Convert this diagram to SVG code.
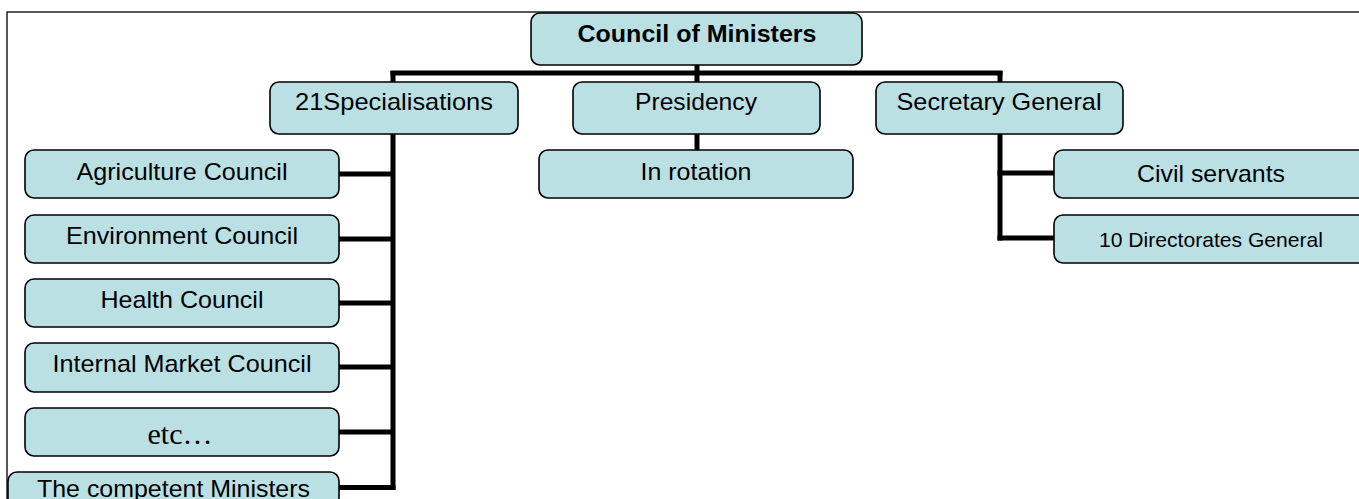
<svg xmlns="http://www.w3.org/2000/svg" width="1359" height="499" viewBox="0 0 1359 499">
<style>
.box{fill:#BBE0E3;stroke:#000;stroke-width:1.6}
.t{font-family:"Liberation Sans",Arial,sans-serif;font-size:24px;fill:#000;text-anchor:middle}
.b{font-weight:bold}
.s{font-size:21px}
.serif{font-family:"Liberation Serif","Times New Roman",serif;font-size:30px}
.conn{stroke:#000;stroke-width:5;fill:none}
.frame{stroke:#222;stroke-width:1.5;fill:none}
</style>
<rect x="0" y="0" width="1359" height="499" fill="#fff"/>
<path class="frame" d="M7,499 V12 H1359"/>
<g id="connectors">
<path class="conn" d="M393,134 V490"/>
<path class="conn" d="M390.5,73 H1002.5"/>
<path class="conn" d="M393,71 V82"/>
<path class="conn" d="M1000,71 V82"/>
<path class="conn" d="M697,65 V82"/>
<path class="conn" d="M697,134 V150"/>
<path class="conn" d="M339,174 H393 M339,239 H393 M339,303 H393 M339,367 H393 M339,432 H393 M339,487.5 H395.5"/>
<path class="conn" d="M1000,134 V240.5"/>
<path class="conn" d="M997.5,173 H1054 M997.5,238 H1054"/>
</g>
<g id="council"><rect class="box" x="531" y="13" width="331" height="52" rx="9"/><text class="t b" x="697" y="42" textLength="239" lengthAdjust="spacingAndGlyphs">Council of Ministers</text></g>
<g id="specialisations"><rect class="box" x="270" y="82" width="248" height="52" rx="9"/><text class="t" x="394" y="110" textLength="198" lengthAdjust="spacingAndGlyphs">21Specialisations</text></g>
<g id="presidency"><rect class="box" x="573" y="82" width="247" height="52" rx="9"/><text class="t" x="696" y="110" textLength="122" lengthAdjust="spacingAndGlyphs">Presidency</text></g>
<g id="secretary"><rect class="box" x="876" y="82" width="247" height="52" rx="9"/><text class="t" x="999" y="110" textLength="205" lengthAdjust="spacingAndGlyphs">Secretary General</text></g>
<g id="rotation"><rect class="box" x="539" y="150" width="314" height="48" rx="9"/><text class="t" x="696" y="180" textLength="111" lengthAdjust="spacingAndGlyphs">In rotation</text></g>
<g id="agriculture"><rect class="box" x="25" y="150" width="314" height="48" rx="9"/><text class="t" x="182" y="180" textLength="211" lengthAdjust="spacingAndGlyphs">Agriculture Council</text></g>
<g id="environment"><rect class="box" x="25" y="215" width="314" height="48" rx="9"/><text class="t" x="182" y="244" textLength="232" lengthAdjust="spacingAndGlyphs">Environment Council</text></g>
<g id="health"><rect class="box" x="25" y="279" width="314" height="48" rx="9"/><text class="t" x="182" y="308" textLength="163" lengthAdjust="spacingAndGlyphs">Health Council</text></g>
<g id="internal"><rect class="box" x="25" y="343" width="314" height="49" rx="9"/><text class="t" x="182" y="372" textLength="259" lengthAdjust="spacingAndGlyphs">Internal Market Council</text></g>
<g id="etc"><rect class="box" x="25" y="408" width="314" height="48" rx="9"/><text class="t serif" x="180" y="444">etc…</text></g>
<g id="ministers"><rect class="box" x="8" y="472" width="331" height="48" rx="9"/><text class="t" x="173.5" y="497" textLength="273" lengthAdjust="spacingAndGlyphs">The competent Ministers</text></g>
<g id="civil"><rect class="box" x="1054" y="150" width="316" height="48" rx="9"/><text class="t" x="1211" y="182" textLength="148" lengthAdjust="spacingAndGlyphs">Civil servants</text></g>
<g id="directorates"><rect class="box" x="1054" y="215" width="316" height="48" rx="9"/><text class="t s" x="1211" y="247" textLength="224" lengthAdjust="spacingAndGlyphs">10 Directorates General</text></g>
</svg>
